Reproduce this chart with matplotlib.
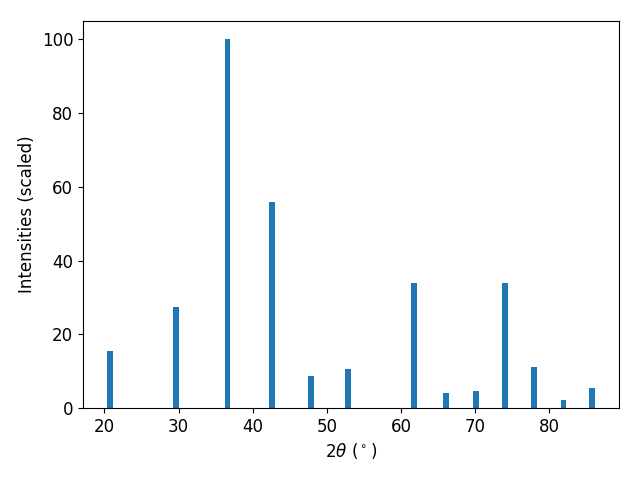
import matplotlib
matplotlib.use("Agg")
import matplotlib.pyplot as plt

two_theta = [20.8, 29.7, 36.6, 42.6, 47.9, 52.8, 61.8, 66.1, 70.1, 74.0, 77.9, 81.9, 85.7]
intensity = [15.4, 27.5, 100.0, 56.0, 8.6, 10.5, 34.0, 4.2, 4.5, 34.0, 11.0, 2.2, 5.4]

fig, ax = plt.subplots(figsize=(6.4, 4.8), dpi=100)
ax.bar(two_theta, intensity, width=0.8)
ax.set_xlabel(r"2$\theta$ ($^\circ$)", fontsize=12)
ax.set_ylabel("Intensities (scaled)", fontsize=12)
ax.tick_params(labelsize=12)
fig.subplots_adjust(left=83/640, right=619/640, top=1-21/480, bottom=1-408/480)
fig.savefig("out.png")
